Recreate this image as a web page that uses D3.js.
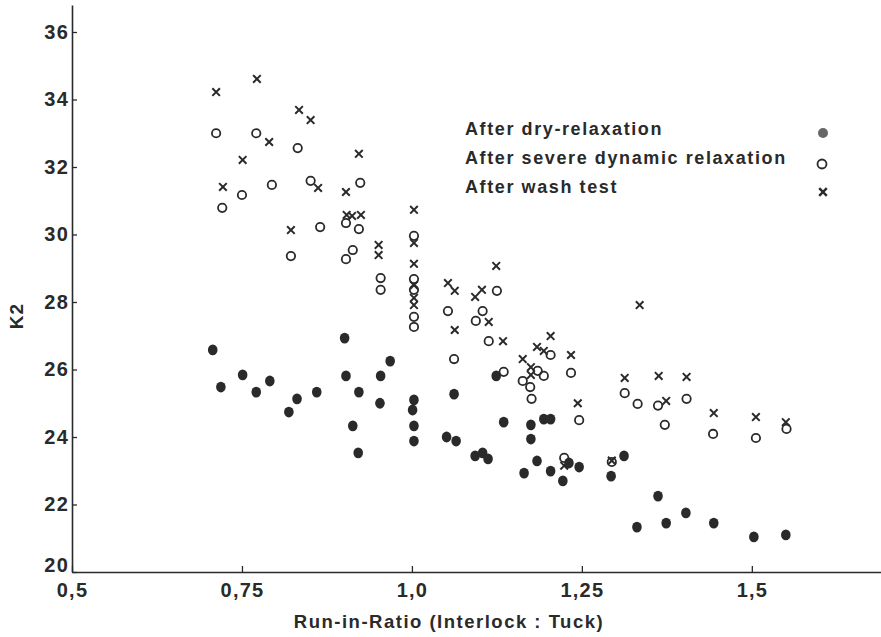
<!DOCTYPE html>
<html>
<head>
<meta charset="utf-8">
<script src="https://cdn.jsdelivr.net/npm/d3@7"></script>
<style>
  body { margin: 0; background: #fff; }
  text { font-family: "Liberation Sans", Arial, sans-serif; font-weight: bold; fill: #2a2a2a; }
</style>
</head>
<body>
<div id="chart"></div>
<script>
// values: [run-in-ratio, K2]
const dryRelaxation = [
    [0.707, 26.58], [0.719, 25.48], [0.751, 25.84], [0.771, 25.33], [0.791, 25.66],
    [0.819, 24.74], [0.831, 25.13], [0.860, 25.33], [0.901, 26.93], [0.903, 25.81],
    [0.913, 24.33], [0.921, 23.53], [0.922, 25.33], [0.968, 26.25], [0.953, 25.0],
    [0.954, 25.81], [1.003, 25.10], [1.001, 24.80], [1.003, 24.33], [1.003, 23.88],
    [1.062, 25.27], [1.124, 25.81], [1.135, 24.44], [1.175, 24.36], [1.175, 23.94],
    [1.194, 24.53], [1.204, 24.53], [1.051, 24.0], [1.065, 23.88], [1.093, 23.44],
    [1.104, 23.53], [1.112, 23.35], [1.165, 22.93], [1.184, 23.29], [1.204, 22.99],
    [1.231, 23.23], [1.246, 23.11], [1.222, 22.70], [1.293, 22.84], [1.312, 23.44],
    [1.331, 21.33], [1.362, 22.25], [1.374, 21.45], [1.403, 21.75], [1.444, 21.45],
    [1.503, 21.04], [1.550, 21.10]
];
const severeDynamic = [
    [0.712, 33.0], [0.771, 33.0], [0.832, 32.56], [0.721, 30.79], [0.750, 31.17],
    [0.794, 31.47], [0.851, 31.59], [0.924, 31.53], [0.865, 30.22], [0.822, 29.36],
    [0.903, 30.34], [0.922, 30.16], [0.913, 29.54], [0.903, 29.27], [0.954, 28.71],
    [0.954, 28.36], [1.003, 29.96], [1.003, 28.68], [1.003, 28.36], [1.003, 27.56],
    [1.003, 27.26], [1.053, 27.73], [1.062, 26.31], [1.094, 27.44], [1.104, 27.73],
    [1.125, 28.33], [1.113, 26.84], [1.135, 25.93], [1.163, 25.66], [1.174, 25.48],
    [1.176, 25.13], [1.185, 25.96], [1.194, 25.81], [1.204, 26.43], [1.234, 25.90],
    [1.246, 24.50], [1.313, 25.30], [1.332, 24.98], [1.224, 23.38], [1.294, 23.26],
    [1.362, 24.93], [1.372, 24.36], [1.404, 25.13], [1.443, 24.09], [1.506, 23.97],
    [1.551, 24.24]
];
const washTest = [
    [0.712, 34.22], [0.772, 34.61], [0.834, 33.69], [0.851, 33.39], [0.790, 32.74],
    [0.751, 32.21], [0.922, 32.39], [0.722, 31.41], [0.862, 31.38], [0.903, 31.26],
    [0.904, 30.58], [0.912, 30.55], [0.925, 30.58], [0.822, 30.13], [0.951, 29.69],
    [0.951, 29.39], [1.003, 30.73], [1.003, 29.75], [1.003, 29.13], [1.003, 28.5],
    [1.003, 28.12], [1.003, 27.91], [1.124, 29.07], [1.053, 28.56], [1.063, 28.33],
    [1.093, 28.15], [1.103, 28.36], [1.113, 27.41], [1.063, 27.17], [1.134, 26.84],
    [1.204, 26.99], [1.184, 26.67], [1.194, 26.55], [1.163, 26.31], [1.175, 26.07],
    [1.175, 25.84], [1.234, 26.43], [1.244, 25.0], [1.313, 25.75], [1.335, 27.91],
    [1.224, 23.15], [1.363, 25.81], [1.404, 25.78], [1.374, 25.07], [1.444, 24.71],
    [1.506, 24.59], [1.550, 24.44], [1.294, 23.30]
];
const xTicks = [0.5, 0.75, 1.0, 1.25, 1.5];
const xTickLabels = ["0,5", "0,75", "1,0", "1,25", "1,5"];
const yTicks = [20, 22, 24, 26, 28, 30, 32, 34, 36];
const legendLabels = ["After dry-relaxation", "After severe dynamic relaxation", "After wash test"];

const ink = "#2a2a2a";
const svg = d3.select("#chart").append("svg")
    .attr("width", 881)
    .attr("height", 637);

const x = d3.scaleLinear().domain([0.5, 1.69]).range([72, 881]);
const y = d3.scaleLinear().domain([20, 36.8]).range([572, 5]);

// axes, ticks pointing inward like the original
const xAxis = svg.append("g")
    .attr("transform", "translate(0,572)")
    .call(d3.axisBottom(x).tickValues(xTicks)
        .tickFormat((d, i) => xTickLabels[i])
        .tickSize(-6).tickPadding(11).tickSizeOuter(0));
const yAxis = svg.append("g")
    .attr("transform", "translate(72,0)")
    .call(d3.axisLeft(y).tickValues(yTicks)
        .tickSize(-5).tickPadding(3).tickSizeOuter(0));

[xAxis, yAxis].forEach(g => {
    g.select(".domain").attr("stroke", ink).attr("stroke-width", 1.6);
    g.selectAll(".tick line").attr("stroke", ink).attr("stroke-width", 1.3);
    g.selectAll(".tick text").attr("fill", ink)
        .style("font-size", "20px").attr("letter-spacing", "1.2px");
});
// bottom label "20" sits a little above the axis line in the original
yAxis.selectAll(".tick text").filter(d => d === 20).attr("dy", "-0.05em");

svg.append("text")
    .attr("x", 449).attr("y", 628)
    .attr("text-anchor", "middle")
    .style("font-size", "18.5px")
    .attr("letter-spacing", "1.5px")
    .text("Run-in-Ratio (Interlock : Tuck)");

svg.append("text")
    .attr("transform", "translate(23,316) rotate(-90)")
    .attr("text-anchor", "middle")
    .style("font-size", "19px")
    .attr("letter-spacing", "1px")
    .text("K2");

// points
const crossPath = s => `M${-s},${-s}L${s},${s}M${-s},${s}L${s},${-s}`;

svg.append("g").selectAll("ellipse")
    .data(dryRelaxation)
    .enter().append("ellipse")
    .attr("cx", d => x(d[0]))
    .attr("cy", d => y(d[1]))
    .attr("rx", 4.8).attr("ry", 5.4)
    .attr("fill", ink);

svg.append("g").selectAll("circle")
    .data(severeDynamic)
    .enter().append("circle")
    .attr("cx", d => x(d[0]))
    .attr("cy", d => y(d[1]))
    .attr("r", 4.2)
    .attr("fill", "none")
    .attr("stroke", ink)
    .attr("stroke-width", 1.8);

svg.append("g").selectAll("path")
    .data(washTest)
    .enter().append("path")
    .attr("transform", d => `translate(${x(d[0])},${y(d[1])})`)
    .attr("d", crossPath(3.8))
    .attr("stroke", ink)
    .attr("stroke-width", 2);

// legend
const legend = svg.append("g");
legend.selectAll("text")
    .data(legendLabels)
    .enter().append("text")
    .attr("x", 465)
    .attr("y", (d, i) => 135 + i * 29)
    .style("font-size", "18px")
    .attr("letter-spacing", "1.6px")
    .text(d => d);

legend.append("circle")
    .attr("cx", 823).attr("cy", 133).attr("r", 5)
    .attr("fill", "#666");
legend.append("circle")
    .attr("cx", 822).attr("cy", 164).attr("r", 4.5)
    .attr("fill", "none").attr("stroke", ink).attr("stroke-width", 1.8);
legend.append("path")
    .attr("transform", "translate(823,192)")
    .attr("d", crossPath(3.8))
    .attr("stroke", ink).attr("stroke-width", 2.4);
</script>
</body>
</html>
